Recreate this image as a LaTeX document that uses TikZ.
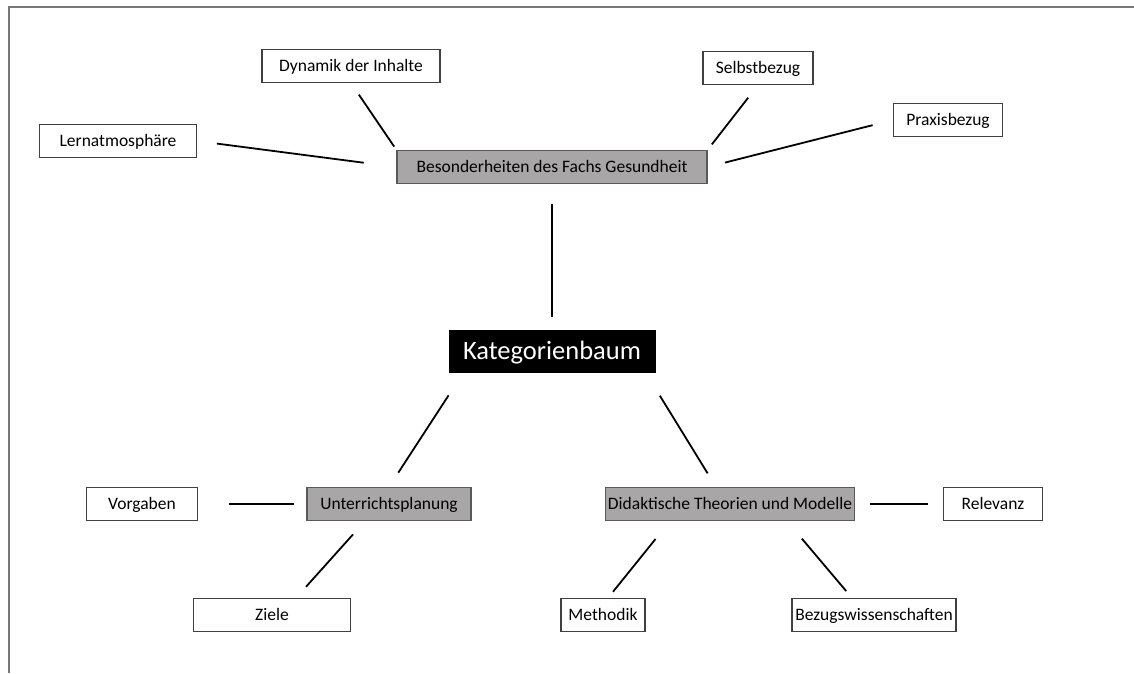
\documentclass[tikz,border=0pt]{standalone}
\usepackage{fontspec}
\setmainfont{Carlito}
\definecolor{catgray}{RGB}{168,166,166}
\definecolor{framegray}{RGB}{120,120,120}

\begin{document}
\begin{tikzpicture}[x=1pt, y=-1pt,
        leaf/.style={draw=black!75, line width=1.1pt, fill=white, minimum height=33pt, inner sep=0pt,
          text height=14pt, text depth=3pt, font=\fontsize{17.5}{20}\selectfont},
        cat/.style={leaf, fill=catgray, draw=black!65},
        rootbox/.style={fill=black, text=white, minimum width=207pt, minimum height=43pt, inner sep=0pt,
          text height=21pt, text depth=4pt, font=\fontsize{26.5}{30}\selectfont},
        link/.style={line width=1.8pt}]
      \useasboundingbox (0,0) rectangle (1134,673);
      \draw[framegray, line width=1.8pt] (9,673) -- (9,7) -- (1134,7);
      % centre and categories
      \node[rootbox] (root) at (552,351) {Kategorienbaum};
      \node[cat, minimum width=310pt] (bes) at (552,167) {Besonderheiten des Fachs Gesundheit};
      \node[cat, minimum width=164pt] (unt) at (389,504) {Unterrichtsplanung};
      \node[cat, minimum width=249pt] (did) at (730,504) {Didaktische Theorien und Modelle};
      % leaves
      \node[leaf, minimum width=157pt] (lern) at (118,141) {Lernatmosphäre};
      \node[leaf, minimum width=178pt] (dyn) at (351,66) {Dynamik der Inhalte};
      \node[leaf, minimum width=110pt] (selbst) at (758,68) {Selbstbezug};
      \node[leaf, minimum width=109pt] (praxis) at (948,120) {Praxisbezug};
      \node[leaf, minimum width=111pt] (vorg) at (142,504) {Vorgaben};
      \node[leaf, minimum width=157pt] (ziele) at (272,615) {Ziele};
      \node[leaf, minimum width=99pt] (relev) at (993,504) {Relevanz};
      \node[leaf, minimum width=84pt] (meth) at (603,615) {Methodik};
      \node[leaf, minimum width=164pt] (bezug) at (874,615) {Bezugswissenschaften};
      % connectors
      \draw[link, shorten <=20pt, shorten >=12pt] (bes.south) -- (root.north);
      \draw[link, shorten <=27pt, shorten >=17pt] ([xshift=15pt]root.south west) -- (unt.north);
      \draw[link, shorten <=27pt, shorten >=16pt] ([xshift=-10pt]root.south east) -- ([xshift=-14pt]did.north);
      \draw[link, shorten <=20pt, shorten >=33pt] (lern.east) -- (bes.west);
      \draw[link, shorten <=14pt, shorten >=4pt] (dyn.south) -- (bes.north west);
      \draw[link, shorten <=16pt, shorten >=7pt] (selbst.south) -- (bes.north east);
      \draw[link, shorten <=21pt, shorten >=18pt] (praxis.west) -- (bes.east);
      \draw[link, shorten <=31pt, shorten >=12pt] (vorg.east) -- (unt.west);
      \draw[link, shorten <=18pt, shorten >=15pt] ([xshift=-24pt]unt.south) -- ([xshift=24pt]ziele.north);
      \draw[link, shorten <=15pt, shorten >=15pt] (did.east) -- (relev.west);
      \draw[link, shorten <=23pt, shorten >=8pt] ([xshift=-60pt]did.south) -- ([xshift=5pt]meth.north);
      \draw[link, shorten <=23pt, shorten >=9pt] ([xshift=57pt]did.south) -- ([xshift=-22pt]bezug.north);
    \end{tikzpicture}
\end{document}
